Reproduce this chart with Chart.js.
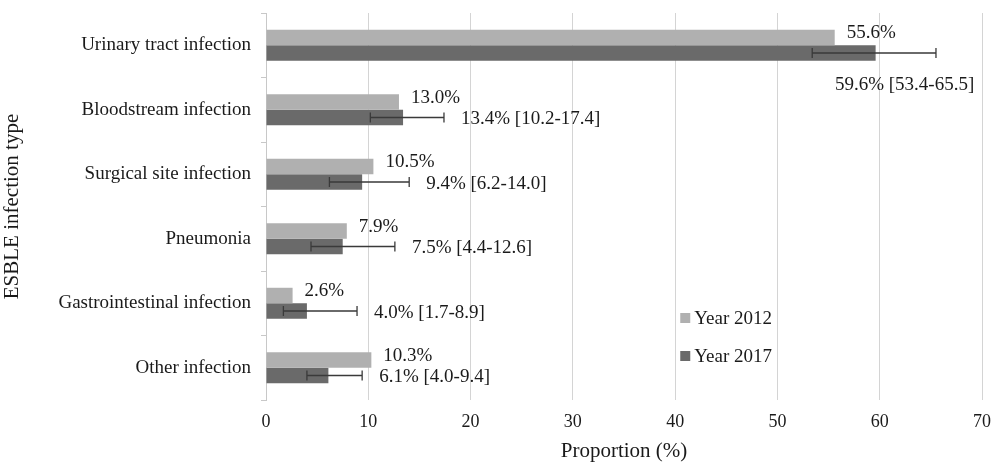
<!DOCTYPE html>
<html>
<head>
<meta charset="utf-8">
<script src="https://cdn.jsdelivr.net/npm/chart.js@4"></script>
<style>
  html, body { margin: 0; padding: 0; background: #fff; }
  #wrap { width: 992px; height: 464px; }
</style>
</head>
<body>
<div id="wrap"><canvas id="myChart" width="992" height="464"></canvas></div>
<script>
const categories = ['Urinary tract infection', 'Bloodstream infection', 'Surgical site infection',
                    'Pneumonia', 'Gastrointestinal infection', 'Other infection'];
const year2012 = [55.6, 13.0, 10.5, 7.9, 2.6, 10.3];
const year2017 = [59.6, 13.4, 9.4, 7.5, 4.0, 6.1];
const ciLow2017 = [53.4, 10.2, 6.2, 4.4, 1.7, 4.0];
const ciHigh2017 = [65.5, 17.4, 14.0, 12.6, 8.9, 9.4];
const xTicks = [0, 10, 20, 30, 40, 50, 60, 70];

const FONT = '"Liberation Serif", "Times New Roman", serif';
const textColor = '#1a1a1a';

// error bars, value labels and legend drawn on top of the bars
const extrasPlugin = {
    id: 'extras',
    afterDatasetsDraw(chart) {
        const ctx = chart.ctx;
        const xs = chart.scales.x;
        const area = chart.chartArea;
        const m12 = chart.getDatasetMeta(0);
        const m17 = chart.getDatasetMeta(1);
        ctx.save();
        ctx.font = '19px ' + FONT;
        ctx.fillStyle = textColor;
        ctx.textBaseline = 'middle';

        // error bars for 2017
        ctx.strokeStyle = '#3a3a3a';
        ctx.lineWidth = 1.3;
        m17.data.forEach((bar, i) => {
            const x1 = xs.getPixelForValue(ciLow2017[i]);
            const x2 = xs.getPixelForValue(ciHigh2017[i]);
            const y = bar.y;
            ctx.beginPath();
            ctx.moveTo(x1, y); ctx.lineTo(x2, y);
            ctx.moveTo(x1, y - 5); ctx.lineTo(x1, y + 5);
            ctx.moveTo(x2, y - 5); ctx.lineTo(x2, y + 5);
            ctx.stroke();
        });

        // 2012 labels
        ctx.textAlign = 'left';
        m12.data.forEach((bar, i) => {
            ctx.fillText(year2012[i].toFixed(1) + '%', bar.x + 12, bar.y - 4);
        });

        // 2017 labels
        m17.data.forEach((bar, i) => {
            const txt = year2017[i].toFixed(1) + '% [' + ciLow2017[i].toFixed(1) + '-' + ciHigh2017[i].toFixed(1) + ']';
            const xEnd = xs.getPixelForValue(ciHigh2017[i]);
            const w = ctx.measureText(txt).width;
            if (xEnd + 17 + w > area.right) {
                ctx.textAlign = 'center';
                ctx.fillText(txt, bar.x + 29, bar.y + 32);
                ctx.textAlign = 'left';
            } else {
                ctx.fillText(txt, xEnd + 17, bar.y + 2);
            }
        });

        // legend inside plot
        const lx = xs.getPixelForValue(40.5);
        const ly = [318, 356];
        chart.data.datasets.forEach((ds, i) => {
            ctx.fillStyle = ds.backgroundColor;
            ctx.fillRect(lx, ly[i] - 5, 10, 10);
            ctx.fillStyle = textColor;
            ctx.textAlign = 'left';
            ctx.fillText(ds.label, lx + 14, ly[i] + 1);
        });
        ctx.restore();
    }
};

const ctx = document.getElementById('myChart');
new Chart(ctx, {
    type: 'bar',
    data: {
        labels: categories,
        datasets: [
            { label: 'Year 2012', data: year2012, backgroundColor: '#b0b0b0',
              categoryPercentage: 0.48, barPercentage: 1.0 },
            { label: 'Year 2017', data: year2017, backgroundColor: '#6a6a6a',
              categoryPercentage: 0.48, barPercentage: 1.0 }
        ]
    },
    options: {
        indexAxis: 'y',
        responsive: false,
        animation: false,
        layout: { padding: { top: 13, right: 10, left: 0, bottom: 0 } },
        plugins: { legend: { display: false }, tooltip: { enabled: false } },
        scales: {
            x: {
                min: 0, max: 70,
                afterBuildTicks: (s) => { s.ticks = xTicks.map(v => ({ value: v })); },
                afterFit: (s) => { s.height = 64; s.paddingLeft = 0; s.paddingRight = 0; },
                grid: { color: '#d4d4d4', lineWidth: 1, drawTicks: false },
                border: { display: false },
                ticks: { color: textColor, font: { family: FONT, size: 18 }, padding: 11 },
                title: { display: true, text: 'Proportion (%)', color: textColor,
                         font: { family: FONT, size: 21 }, padding: { top: 4, bottom: 0 } }
            },
            y: {
                afterFit: (s) => { s.width = 266; s.paddingTop = 0; s.paddingBottom = 0; },
                grid: { drawOnChartArea: false, drawTicks: true, tickLength: 5, color: '#c8c8c8', offset: true },
                border: { display: true, color: '#c8c8c8' },
                ticks: { color: textColor, font: { family: FONT, size: 19 }, padding: 10 },
                title: { display: true, text: 'ESBLE infection type', color: textColor,
                         font: { family: FONT, size: 21 }, padding: { top: 0, bottom: 0 } }
            }
        }
    },
    plugins: [extrasPlugin]
});
</script>
</body>
</html>
